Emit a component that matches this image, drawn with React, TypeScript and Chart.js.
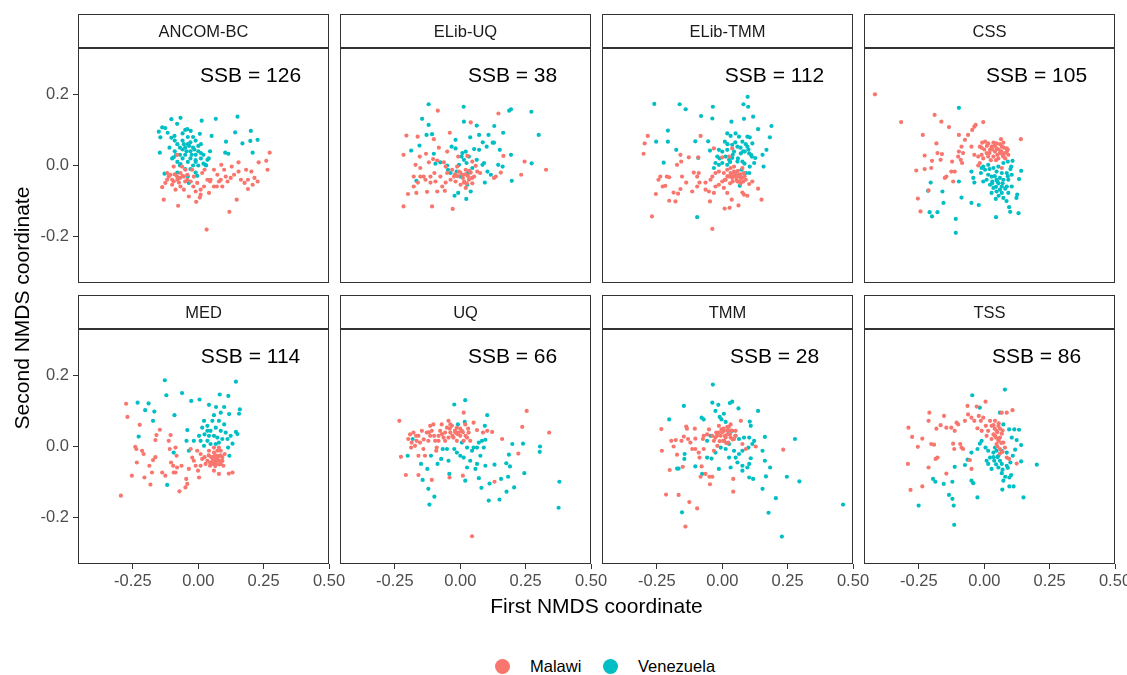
import React, { useEffect, useRef } from 'react';
import { Chart, registerables } from 'chart.js';

Chart.register(...registerables);

const FONT = '"Liberation Sans", Arial, Helvetica, sans-serif';

// ---------- data ----------
const panelNames = ['ANCOM-BC', 'ELib-UQ', 'ELib-TMM', 'CSS', 'MED', 'UQ', 'TMM', 'TSS'];
const ssbValues = [126, 38, 112, 105, 114, 66, 28, 86];
const groupNames = ['Malawi', 'Venezuela'];
const groupColors = ['#F8766D', '#00BFC4'];
const xTickValues = [-0.25, 0, 0.25, 0.5];
const yTickValues = [-0.2, 0, 0.2];
const xRange = [-0.46, 0.5];
const yRange = [-0.33, 0.33];
const ssbAnchor = [0.2, 0.25];
const xTitle = 'First NMDS coordinate';
const yTitle = 'Second NMDS coordinate';

// flat [x, y, x, y, ...] pairs
const ancomMalawi = [
  -0.138,-0.061, -0.132,-0.096, -0.077,-0.113, -0.119,-0.04, -0.106,-0.026, -0.094,-0.045, -0.081,-0.031,
  -0.068,-0.059, -0.055,-0.068, -0.087,-0.068, -0.042,-0.04, -0.019,-0.059, -0.01,-0.073, 0.009,-0.068,
  0.009,-0.082, -0.008,-0.102, 0.022,-0.059, 0.041,-0.077, 0.032,-0.18, 0.047,-0.04, 0.06,-0.012,
  0.073,-0.026, 0.088,0.002, 0.099,-0.012, 0.105,-0.031, 0.092,-0.059, 0.112,-0.045, 0.124,-0.035,
  0.128,-0.003, 0.119,-0.13, 0.147,-0.096, 0.154,0.009, 0.154,-0.017, 0.183,-0.012, 0.203,-0.017,
  0.177,-0.049, 0.19,-0.066, 0.208,-0.054, 0.215,-0.035, 0.227,-0.045, 0.231,0.009, 0.26,0.013,
  0.265,-0.012, 0.273,0.036, 0.071,-0.059, 0.079,-0.045, 0.024,-0.012, -0.023,-0.012, -0.049,-0.012,
  -0.068,-0.021, -0.042,-0.026, -0.062,-0.003, -0.081,0.03, -0.094,-0.003, -0.113,-0.031, -0.1,-0.054,
  -0.126,-0.049, -0.074,-0.048, -0.029,-0.045, -0.004,-0.049, 0.015,-0.021, 0.035,-0.04, -0.036,-0.087,
  0.006,-0.09, 0.086,-0.04, 0.137,-0.026, 0.163,-0.04, 0.19,-0.04, -0.119,-0.021, -0.055,-0.031,
  -0.017,-0.031, 0.045,-0.045, 0.06,-0.059, -0.06,-0.03, -0.05,-0.045, -0.08,-0.04, -0.09,-0.025,
  -0.1,-0.04, -0.07,-0.035,
];
const ancomVenezuela = [
  -0.151,0.095, -0.145,0.079, -0.138,0.107, -0.126,0.105, -0.103,0.13, -0.068,0.134, -0.081,0.117,
  0.013,0.126, 0.067,0.131, 0.15,0.137, 0.141,0.093, 0.201,0.097, 0.227,0.072, 0.199,0.069, 0.169,0.062,
  0.106,0.067, 0.051,0.083, 0.006,0.089, -0.042,0.102, -0.029,0.097, -0.103,0.078, -0.091,0.083,
  -0.117,0.092, -0.147,0.036, 0.103,0.036, 0.115,0.033, 0.208,0.036, -0.129,-0.023, -0.094,0.023,
  -0.068,0.004, 0.045,0.04, 0.035,0.016, 0.028,0.002, -0.004,-0.029, -0.036,-0.049,
  -0.08,0.06, -0.06,0.07, -0.05,0.05, -0.04,0.06, -0.03,0.04, -0.02,0.05, -0.01,0.03, 0.0,0.04,
  0.01,0.02, -0.07,0.03, -0.06,0.02, -0.05,0.03, -0.04,0.01, -0.03,0.02, -0.02,0.0, -0.01,0.01,
  0.0,0.0, 0.02,0.03, 0.03,0.0, -0.09,0.04, -0.1,0.02, -0.08,0.01, -0.07,0.0, -0.05,-0.01,
  -0.03,-0.01, -0.06,0.09, -0.04,0.08, -0.02,0.08, 0.01,0.06, -0.01,0.07, -0.11,0.05, -0.09,0.07,
  -0.05,0.1, -0.03,0.065, 0.0,0.055, 0.04,0.02, 0.02,0.005, -0.04,-0.03, -0.01,-0.02, -0.08,-0.02,
  -0.06,0.045, -0.045,0.04, -0.035,0.055, -0.025,0.03, -0.015,0.045, -0.055,0.06, -0.07,0.05,
  -0.01,0.015, 0.01,0.035, -0.085,0.03,
];
const elibUqMalawi = [
  -0.217,-0.115, -0.108,-0.115, -0.029,-0.122, -0.2,-0.08, -0.168,-0.077, -0.127,-0.074, -0.178,-0.059,
  -0.162,-0.048, -0.178,-0.031, -0.171,0.002, -0.153,-0.007, -0.217,0.03, -0.206,0.084, -0.163,0.081,
  -0.155,0.025, -0.131,0.033, -0.12,0.009, -0.086,0.154, 0.04,0.121, -0.04,0.092, -0.101,0.074,
  -0.082,0.05, -0.104,0.018, -0.088,0.014, -0.063,0.009, 0.146,0.146, 0.165,0.027, 0.246,0.011,
  0.233,-0.026, 0.328,-0.012, 0.155,-0.02, 0.136,-0.031, 0.129,-0.035, -0.008,0.025, 0.027,0.027,
  0.046,0.011, 0.059,-0.001, 0.065,-0.017, 0.076,-0.021, 0.053,-0.031, 0.033,-0.04, 0.014,-0.048,
  0.021,-0.063, 0.001,-0.054, -0.018,-0.045, -0.037,-0.04, -0.056,-0.048, -0.069,-0.059, -0.088,-0.073,
  -0.059,-0.071, -0.076,-0.031, -0.099,-0.021, -0.114,-0.031, -0.133,-0.04, -0.14,-0.031, -0.153,-0.031,
  -0.114,-0.048, -0.095,-0.045, -0.05,-0.021, -0.031,-0.012, -0.024,-0.031, -0.005,-0.017, 0.008,-0.026,
  0.021,-0.012, 0.04,-0.02, -0.012,-0.003, -0.05,0.039, -0.056,-0.003, 0.046,-0.05,
  0.0,-0.02, 0.01,-0.035, 0.02,-0.025, 0.03,-0.03, -0.01,-0.03, 0.035,-0.015, 0.015,-0.045,
  -0.02,-0.025, 0.045,-0.035, 0.025,-0.05,
];
const elibUqVenezuela = [
  -0.121,0.172, -0.146,0.131, -0.121,0.114, -0.129,0.086, -0.108,0.088, -0.156,0.056, -0.188,0.042,
  0.013,0.165, 0.014,0.123, 0.063,0.112, 0.038,0.079, 0.072,0.086, 0.086,0.065, 0.108,0.086, 0.13,0.111,
  0.164,0.092, 0.187,0.154, 0.194,0.158, 0.272,0.151, 0.3,0.086, 0.124,0.064, 0.129,0.064, 0.101,0.053,
  0.151,0.044, 0.194,0.03, 0.162,-0.003, 0.145,0.002, 0.273,0.006, 0.197,-0.043, 0.091,0.007,
  0.085,0.002, 0.104,-0.017, 0.117,-0.026, 0.094,-0.048, 0.072,0.044, 0.053,0.046, 0.021,0.039,
  0.005,0.025, -0.018,0.048, -0.033,0.053, -0.018,0.072, -0.076,0.009, -0.101,0.033, -0.095,0.005,
  -0.05,0.0, -0.168,-0.043, -0.022,-0.085, -0.008,-0.077, 0.023,-0.094, 0.04,-0.073, 0.027,-0.054,
  0.001,-0.031, -0.014,-0.017, -0.005,0.002, 0.014,0.016, 0.033,0.025, 0.046,-0.007, 0.029,-0.021,
  -0.037,-0.021, -0.047,-0.012, 0.008,0.035, 0.024,0.007, 0.063,0.016,
];
const elibTmmMalawi = [
  -0.285,0.083, -0.297,0.062, -0.301,0.033, -0.269,-0.143, -0.038,-0.178, -0.254,-0.08, -0.203,-0.099,
  -0.179,-0.101, -0.169,-0.079, -0.186,-0.076, -0.228,-0.059, -0.218,-0.057, -0.244,-0.04, -0.237,-0.031,
  -0.212,-0.031, -0.203,-0.033, -0.154,-0.031, -0.16,0.03, -0.173,0.002, -0.157,0.011, -0.128,0.023,
  -0.092,0.023, -0.083,0.083, -0.109,-0.02, -0.09,-0.021, -0.096,-0.031, -0.138,-0.048, -0.16,-0.066,
  -0.115,-0.073, -0.096,-0.059, -0.087,-0.048, -0.064,-0.048, -0.045,-0.04, -0.051,-0.073, -0.047,-0.101,
  -0.032,-0.077, -0.026,-0.059, -0.013,-0.054, 0.006,-0.063, 0.019,-0.077, 0.036,-0.096, 0.028,-0.119,
  0.009,-0.121, 0.062,-0.112, 0.077,-0.076, 0.096,-0.085, 0.083,-0.082, 0.137,-0.065, 0.15,-0.096,
  0.115,-0.045, 0.103,-0.052, -0.032,0.048, 0.0,0.023, 0.038,0.048, 0.026,0.025, -0.013,-0.017,
  0.006,-0.021, 0.019,-0.012, 0.032,-0.021, 0.045,-0.017, 0.051,-0.031, 0.064,-0.026, 0.071,-0.035,
  0.058,-0.045, 0.038,-0.035, 0.026,-0.031, 0.013,-0.04, 0.083,-0.021, 0.09,-0.04, 0.045,-0.003,
  -0.026,-0.021, -0.038,-0.031, -0.064,-0.068, 0.0,-0.045, 0.077,-0.007, 0.032,-0.007,
  0.05,-0.02, 0.06,-0.03, 0.07,-0.025, 0.055,-0.04, 0.065,-0.045, 0.075,-0.035, 0.045,-0.03,
  0.08,-0.045, 0.06,-0.015, 0.035,-0.025, 0.04,-0.045, 0.07,-0.05, 0.085,-0.03, 0.03,-0.05,
  0.02,-0.03, 0.01,-0.04,
];
const elibTmmVenezuela = [
  -0.26,0.173, -0.163,0.172, -0.14,0.158, -0.036,0.165, 0.097,0.193, 0.081,0.172, 0.099,0.165,
  -0.081,0.139, -0.038,0.132, 0.035,0.123, 0.083,0.131, 0.118,0.137, 0.188,0.111, 0.137,0.102,
  0.182,0.079, 0.154,0.03, 0.169,0.044, 0.158,-0.003, -0.208,0.098, -0.208,0.067, -0.253,0.067,
  -0.224,0.008, -0.176,0.044, -0.103,0.068, -0.054,0.068, -0.092,0.021, -0.047,0.042, -0.096,-0.145,
  0.019,0.09, 0.032,0.083, 0.051,0.09, 0.064,0.081, 0.077,0.067, 0.096,0.081, 0.105,0.079, 0.115,0.062,
  0.096,0.053, 0.086,0.039, 0.103,0.034, 0.113,0.025, 0.126,0.021, 0.122,0.007, 0.105,-0.003,
  0.09,-0.021, 0.074,-0.012, 0.067,-0.057, 0.058,0.011, 0.038,0.021, 0.026,0.016, 0.013,0.025,
  0.019,0.044, 0.0,0.039, -0.013,0.044, -0.019,0.025, 0.0,0.007, -0.013,0.002, 0.019,0.002,
  0.045,0.039, 0.058,0.053, 0.071,0.034, 0.038,0.058, 0.01,0.067, -0.026,0.007, -0.032,-0.007,
  0.077,0.011, 0.051,-0.021, 0.103,-0.021, 0.02,0.06, 0.05,0.065, 0.07,0.05, 0.09,0.06, 0.06,0.02,
  0.04,0.03, 0.08,0.04, 0.1,0.045, 0.03,0.01, -0.01,0.02, 0.11,0.03, 0.085,0.005,
];
const cssMalawi = [
  -0.418,0.2, -0.318,0.122, -0.19,0.142, -0.164,0.123, -0.135,0.108, -0.038,0.109, -0.033,0.114,
  -0.004,0.122, -0.235,0.086, -0.183,0.062, -0.097,0.086, -0.062,0.086, -0.046,0.1, -0.074,0.072,
  -0.087,0.053, -0.097,0.039, -0.081,0.035, -0.1,0.025, -0.09,0.016, -0.085,0.007, -0.123,0.011,
  -0.228,0.028, -0.2,0.013, -0.179,0.035, -0.162,0.032, -0.167,0.016, -0.26,-0.014, -0.228,-0.01,
  -0.203,-0.007, -0.126,-0.017, -0.113,-0.017, -0.119,-0.045, -0.145,-0.031, -0.151,-0.035,
  -0.213,-0.07, -0.254,-0.093, -0.244,-0.129, 0.14,0.074, -0.038,0.03, -0.017,0.053, -0.008,0.064,
  0.003,0.067, 0.015,0.062, 0.035,0.064, 0.047,0.062, 0.064,0.074, 0.073,0.064, 0.067,0.053,
  0.086,0.048, 0.079,0.035, 0.06,0.035, 0.041,0.039, 0.022,0.044, 0.009,0.035, -0.01,0.03,
  -0.023,0.025, -0.004,0.02, 0.015,0.025, 0.035,0.025, 0.054,0.02, 0.073,0.025, 0.092,0.03,
  0.086,0.039, 0.028,0.053, 0.047,0.048, -0.017,0.007, -0.023,0.0, 0.067,-0.007, -0.049,0.053,
  0.0,0.045, 0.01,0.055, 0.02,0.035, 0.03,0.045, 0.04,0.055, 0.05,0.03, 0.055,0.045, 0.065,0.04,
  0.075,0.05, 0.08,0.02, 0.045,0.015, 0.025,0.015, 0.06,0.06, -0.01,0.05, 0.07,0.03, 0.09,0.045,
];
const cssVenezuela = [
  -0.097,0.162, -0.205,-0.048, -0.215,-0.071, -0.16,-0.073, -0.156,-0.105, -0.209,-0.131, -0.2,-0.143,
  -0.179,-0.131, -0.097,-0.045, -0.087,-0.09, -0.109,-0.15, -0.109,-0.189, -0.049,-0.105, -0.021,-0.111,
  0.045,-0.145, 0.131,-0.134, 0.095,-0.117, 0.099,-0.13, 0.126,-0.082, 0.123,-0.091, 0.141,-0.015,
  0.133,-0.038, 0.103,-0.003, 0.108,0.013, 0.09,0.011, -0.049,-0.017, -0.042,-0.035, -0.038,-0.048,
  -0.004,-0.045, -0.013,-0.021, 0.003,-0.012, 0.015,-0.026, 0.028,-0.031, 0.009,-0.04, 0.022,-0.054,
  0.035,-0.063, 0.047,-0.073, 0.028,-0.077, 0.044,-0.094, 0.067,-0.077, 0.073,-0.091, 0.092,-0.077,
  0.086,-0.059, 0.067,-0.059, 0.054,-0.05, 0.073,-0.04, 0.092,-0.04, 0.105,-0.026, 0.086,-0.021,
  0.067,-0.021, 0.047,-0.017, 0.035,-0.007, 0.054,-0.003, 0.073,0.007, 0.015,0.002, -0.004,-0.003,
  0.047,-0.04, 0.031,-0.045, 0.06,-0.068, 0.105,-0.059, -0.01,-0.007, 0.02,-0.01, 0.04,-0.03,
  0.05,-0.045, 0.06,-0.035, 0.07,-0.05, 0.08,-0.065, 0.03,-0.05, 0.045,-0.06, 0.055,-0.085,
  0.09,-0.03, 0.1,-0.01, 0.085,-0.1,
];
const medMalawi = [
  -0.296,-0.138, -0.276,0.12, -0.271,0.083, -0.254,-0.082, -0.241,-0.001, -0.237,-0.007, -0.235,-0.045,
  -0.224,0.061, -0.215,-0.012, -0.209,-0.021, -0.206,-0.087, -0.187,-0.054, -0.183,-0.107, -0.177,-0.073,
  -0.173,-0.038, -0.164,-0.03, -0.164,0.018, -0.16,0.032, -0.147,0.047, -0.138,-0.073, -0.126,-0.082,
  -0.113,0.016, -0.109,-0.007, -0.106,0.032, -0.104,-0.045, -0.096,-0.054, -0.094,-0.073, -0.087,-0.073,
  -0.087,-0.003, -0.083,-0.026, -0.081,-0.059, -0.072,-0.126, -0.064,-0.054, -0.049,-0.115, -0.046,-0.091,
  -0.042,-0.105, -0.036,-0.063, -0.029,-0.007, -0.023,-0.031, -0.017,-0.04, -0.01,-0.054, -0.001,-0.068,
  0.003,-0.087, 0.009,-0.054, 0.015,-0.035, 0.024,-0.03, 0.035,-0.04, 0.045,-0.054, 0.054,-0.03,
  0.06,-0.017, 0.067,-0.035, 0.073,-0.026, 0.079,-0.04, 0.086,-0.049, 0.092,-0.03, 0.096,-0.054,
  0.117,-0.076, 0.131,-0.073, 0.079,-0.077, 0.06,-0.068, 0.041,-0.012, 0.073,-0.012, 0.054,-0.049,
  0.067,-0.049, 0.028,-0.049, 0.009,-0.021, -0.004,-0.012, 0.086,-0.012, 0.101,-0.021, 0.06,-0.003,
  0.079,-0.003, 0.092,-0.04, 0.05,-0.03, 0.055,-0.04, 0.065,-0.025, 0.07,-0.04, 0.075,-0.03,
  0.06,-0.045, 0.08,-0.05, 0.045,-0.045, 0.085,-0.025, 0.065,-0.055, 0.04,-0.025, 0.09,-0.04,
];
const medVenezuela = [
  -0.128,0.186, -0.122,0.144, -0.062,0.15, -0.027,0.128, 0.005,0.132, -0.232,0.123, -0.19,0.121,
  -0.203,0.102, -0.168,0.098, -0.173,0.072, -0.091,0.088, -0.228,0.028, -0.119,-0.108, -0.094,-0.017,
  0.082,0.146, 0.115,0.142, 0.144,0.182, 0.159,0.104, 0.156,0.092, 0.144,0.041, 0.15,0.035,
  0.041,0.117, 0.068,0.111, 0.099,0.111, 0.086,0.095, 0.118,0.091, 0.06,0.088, 0.022,0.072,
  0.035,0.058, 0.054,0.072, 0.079,0.072, 0.099,0.062, 0.067,0.053, 0.047,0.044, 0.086,0.044,
  0.105,0.039, 0.124,0.03, 0.112,0.021, 0.092,0.021, 0.073,0.025, 0.06,0.03, 0.024,0.034, 0.003,0.03,
  0.009,0.016, -0.017,0.016, -0.042,0.046, -0.045,0.016, -0.036,-0.012, 0.119,-0.026, 0.114,-0.003,
  0.131,0.008, 0.035,0.016, 0.047,0.007, 0.067,0.007, 0.079,0.011, 0.022,0.002, 0.041,0.03,
  0.035,0.044, 0.015,0.053,
];
const uqMalawi = [
  -0.233,0.072, -0.227,-0.029, -0.208,-0.08, -0.16,-0.08, -0.109,-0.094, -0.041,-0.087, 0.01,-0.082,
  0.045,-0.252, -0.192,0.034, -0.199,0.021, -0.186,0.011, -0.188,-0.003, -0.173,0.002, -0.167,0.016,
  -0.16,0.03, -0.147,0.044, -0.141,-0.007, -0.135,-0.026, -0.128,0.039, -0.122,0.016, -0.115,0.03,
  -0.109,0.044, -0.103,0.062, -0.096,0.016, -0.09,-0.003, -0.092,-0.012, -0.083,0.03, -0.077,0.044,
  -0.071,0.062, -0.064,0.025, -0.058,0.039, -0.051,0.053, -0.045,0.072, -0.038,0.039, -0.032,0.058,
  -0.026,0.025, -0.019,0.039, -0.013,0.053, -0.006,0.039, 0.0,0.03, 0.006,0.044, 0.013,0.095,
  0.019,0.062, 0.026,0.025, 0.032,0.039, 0.038,0.016, 0.051,0.067, 0.064,0.046, 0.087,0.039,
  0.103,0.044, 0.122,0.041, 0.16,0.021, 0.131,-0.099, 0.222,-0.02, 0.237,0.055, 0.254,0.1, 0.34,0.039,
  -0.179,0.039, -0.154,0.011, -0.16,-0.026, -0.169,0.03, -0.115,0.058, -0.083,0.016, -0.045,0.025,
  -0.058,0.016, -0.013,0.016, 0.013,0.016, -0.038,0.062, -0.02,0.045, -0.01,0.035, 0.0,0.05,
  0.01,0.04, 0.02,0.03, -0.03,0.03, -0.04,0.05, -0.1,0.03, -0.12,0.04, -0.14,0.02, -0.07,0.035,
  0.03,0.05,
];
const uqVenezuela = [
  -0.023,0.118, 0.019,0.13, 0.103,0.088, 0.094,0.058, 0.017,0.069, -0.009,0.062, -0.182,0.021,
  -0.201,-0.026, -0.15,-0.049, -0.126,-0.063, -0.144,-0.094, -0.122,-0.119, -0.099,-0.141, -0.118,-0.163,
  -0.112,-0.026, -0.087,-0.049, -0.073,-0.035, -0.067,-0.007, -0.051,-0.007, -0.045,-0.04, -0.042,-0.077,
  -0.013,-0.017, 0.0,-0.026, 0.013,-0.031, 0.026,-0.059, 0.019,-0.096, 0.038,-0.04, 0.045,-0.012,
  0.051,-0.003, 0.064,-0.003, 0.071,0.011, 0.083,0.016, 0.096,0.019, 0.09,-0.003, 0.077,-0.026,
  0.064,-0.049, 0.058,-0.063, 0.071,-0.089, 0.081,-0.116, 0.096,-0.054, 0.109,-0.152, 0.112,-0.104,
  0.131,-0.051, 0.15,-0.149, 0.156,-0.091, 0.177,-0.127, 0.183,-0.085, 0.176,-0.047, 0.186,-0.023,
  0.19,-0.056, 0.199,0.007, 0.206,-0.115, 0.24,0.008, 0.245,-0.075, 0.305,0.0, 0.304,-0.015,
  0.379,-0.099, 0.376,-0.172, 0.006,0.011, 0.026,-0.003, -0.023,-0.007,
];
const tmmMalawi = [
  -0.233,0.049, -0.231,-0.012, -0.215,-0.135, -0.201,-0.066, -0.195,0.016, -0.186,0.0, -0.178,0.018,
  -0.173,-0.023, -0.167,-0.136, -0.151,-0.057, -0.147,0.028, -0.141,-0.225, -0.138,0.056, -0.135,0.05,
  -0.131,0.021, -0.126,-0.156, -0.115,-0.007, -0.105,0.05, -0.103,0.022, -0.096,-0.174, -0.09,-0.017,
  -0.087,-0.031, -0.079,-0.056, -0.074,0.021, -0.083,-0.085, -0.071,-0.007, -0.064,-0.077, -0.058,0.034,
  -0.051,0.048, -0.049,-0.085, -0.047,-0.106, -0.038,-0.085, -0.032,0.016, -0.032,-0.012, -0.023,0.039,
  -0.019,0.002, -0.013,0.058, -0.006,0.03, -0.003,0.048, 0.003,0.016, 0.006,0.044, 0.013,0.025,
  0.019,0.055, 0.023,0.011, 0.032,0.062, 0.042,-0.091, 0.042,-0.127, 0.045,0.021, 0.051,0.044,
  0.071,0.072, 0.077,0.007, 0.09,-0.007, 0.128,0.0, 0.233,-0.009, -0.026,0.025, -0.013,0.039,
  0.019,0.034, 0.032,0.025, -0.038,0.03, -0.071,0.03, -0.122,0.011, -0.156,0.016, -0.103,-0.007,
  0.0,0.04, 0.01,0.03, 0.02,0.045, 0.03,0.035, 0.04,0.02, -0.01,0.015, 0.015,0.01, 0.025,0.055,
  0.035,0.045, 0.005,0.05, -0.02,0.03, 0.05,0.03,
];
const tmmVenezuela = [
  -0.036,0.174, -0.147,0.114, -0.203,0.076, -0.038,0.123, -0.015,0.117, 0.029,0.122, 0.038,0.126,
  0.062,0.107, 0.137,0.1, -0.079,0.081, -0.071,0.076, -0.026,0.1, 0.006,0.092, -0.01,0.083,
  -0.003,0.076, 0.013,0.069, 0.105,0.07, 0.109,0.058, 0.022,0.044, 0.038,0.044, 0.051,0.03,
  0.064,0.021, 0.083,0.025, 0.103,0.025, 0.122,0.016, 0.115,0.007, 0.1,-0.003, 0.077,-0.012,
  0.064,-0.021, 0.051,-0.031, 0.045,-0.012, 0.026,-0.031, 0.032,-0.059, 0.058,-0.045, 0.077,-0.054,
  0.096,-0.059, 0.103,-0.049, 0.109,-0.033, 0.077,-0.068, 0.103,-0.087, 0.118,-0.091, 0.154,-0.012,
  0.163,0.027, 0.163,-0.04, 0.183,-0.059, 0.167,-0.084, 0.154,-0.119, 0.205,-0.145, 0.247,-0.085,
  0.278,0.021, 0.295,-0.098, 0.177,-0.186, 0.228,-0.253, 0.462,-0.163, -0.173,-0.062, -0.167,-0.062,
  -0.145,-0.035, -0.144,-0.021, -0.154,-0.185, -0.103,-0.056, -0.077,-0.077, -0.058,-0.031,
  -0.041,-0.034, -0.013,-0.063, -0.026,-0.017, 0.006,0.016, 0.026,0.007, 0.013,-0.007, -0.045,0.03,
  -0.058,0.016, -0.006,-0.003,
];
const tssMalawi = [
  -0.29,0.053, -0.292,-0.049, -0.282,-0.122, -0.276,0.027, -0.254,-0.001, -0.237,0.022, -0.237,-0.112,
  -0.213,-0.059, -0.21,0.095, -0.213,0.072, -0.203,0.007, -0.192,0.005, -0.186,-0.035, -0.179,-0.031,
  -0.183,0.05, -0.167,0.06, -0.154,0.086, -0.145,-0.076, -0.145,0.053, -0.126,0.053, -0.119,0.008,
  -0.115,-0.007, -0.113,0.044, -0.106,0.067, -0.1,0.062, -0.092,0.007, -0.087,-0.003, -0.081,-0.007,
  -0.074,0.072, -0.064,0.114, -0.062,0.09, -0.055,-0.038, -0.049,-0.063, -0.049,0.081, -0.038,0.072,
  -0.029,0.112, -0.026,0.051, -0.021,0.086, -0.013,0.072, -0.004,0.081, 0.005,0.126, 0.006,0.058,
  0.015,0.044, 0.022,0.072, 0.028,0.058, 0.035,0.034, 0.041,0.072, 0.047,0.044, 0.054,0.058,
  0.06,0.025, 0.067,0.036, 0.073,0.011, 0.079,-0.003, 0.086,0.095, 0.067,0.095, 0.108,0.102,
  0.086,-0.031, 0.095,-0.035, 0.124,-0.048, 0.054,0.016, 0.041,0.03, 0.028,0.021, 0.009,0.03,
  -0.01,0.044, 0.047,0.007, 0.06,-0.007, 0.04,0.05, 0.05,0.04, 0.055,0.02, 0.06,0.05, 0.05,0.0,
  0.065,0.01, 0.045,0.025, 0.07,0.045, 0.055,0.065, 0.035,0.06, 0.06,-0.02, 0.07,-0.015,
];
const tssVenezuela = [
  -0.046,0.144, 0.079,0.16, -0.017,0.109, 0.06,0.095, 0.073,0.062, 0.095,0.048, 0.115,0.048,
  0.133,0.047, 0.124,0.018, 0.105,0.025, 0.141,0.004, 0.118,-0.009, 0.109,-0.026, 0.141,-0.042,
  0.201,-0.051, 0.15,-0.143, 0.103,-0.08, 0.096,-0.087, 0.067,-0.075, 0.073,-0.096, 0.069,-0.121,
  0.096,-0.112, 0.112,-0.112, 0.086,-0.054, 0.067,-0.049, 0.054,-0.059, 0.038,-0.04, 0.028,-0.063,
  0.015,-0.049, 0.009,-0.04, 0.022,-0.031, 0.035,-0.017, 0.047,-0.012, 0.054,-0.026, 0.015,-0.012,
  0.005,-0.003, -0.01,0.016, -0.026,-0.007, -0.017,0.008, -0.049,-0.017, -0.064,-0.037, -0.074,-0.052,
  -0.113,-0.057, -0.049,-0.096, -0.042,-0.103, -0.026,-0.143, -0.122,-0.099, -0.155,-0.105,
  -0.135,-0.136, -0.122,-0.147, -0.117,-0.166, -0.115,-0.22, -0.196,-0.091, -0.187,-0.099,
  -0.251,-0.166, 0.067,-0.012, 0.086,-0.017, 0.041,-0.003, 0.05,-0.03, 0.06,-0.04, 0.045,-0.05,
  0.07,-0.065, 0.08,-0.085, 0.035,-0.03, 0.09,-0.06, 0.1,-0.045,
];

const malawiByPanel = [ancomMalawi, elibUqMalawi, elibTmmMalawi, cssMalawi, medMalawi, uqMalawi, tmmMalawi, tssMalawi];
const venezuelaByPanel = [ancomVenezuela, elibUqVenezuela, elibTmmVenezuela, cssVenezuela, medVenezuela, uqVenezuela, tmmVenezuela, tssVenezuela];

// ---------- layout ----------
const PLOT_LEFT = [78, 340, 602, 864];
const PLOT_TOP = [48, 329];
const PLOT_W = 251;
const PLOT_H = 235;
const STRIP_H = 34;
const PAD_L = 56;
const PAD_R = 24;
const PAD_T = STRIP_H + 2;
const PAD_B = 36;
const Y_AXIS_W = 40;
const X_AXIS_H = 30;

const toPoints = (flat: number[]) => {
  const out: { x: number; y: number }[] = [];
  for (let i = 0; i + 1 < flat.length; i += 2) out.push({ x: flat[i], y: flat[i + 1] });
  return out;
};

const decorPlugin = {
  id: 'panelDecor',
  afterDraw(chart: any, _args: any, opts: any) {
    const { ctx, chartArea: a, scales } = chart;
    ctx.save();
    ctx.fillStyle = '#000000';
    ctx.font = `21px ${FONT}`;
    ctx.textAlign = 'center';
    ctx.textBaseline = 'middle';
    ctx.fillText(opts.label, scales.x.getPixelForValue(ssbAnchor[0]), scales.y.getPixelForValue(ssbAnchor[1]));
    ctx.strokeStyle = '#333333';
    ctx.lineWidth = 1;
    ctx.strokeRect(a.left + 0.5, a.top + 0.5, a.right - a.left - 1, a.bottom - a.top - 1);
    const st = a.top - STRIP_H;
    ctx.fillStyle = '#ffffff';
    ctx.fillRect(a.left, st, a.right - a.left, STRIP_H);
    ctx.strokeRect(a.left + 0.5, st + 0.5, a.right - a.left - 1, STRIP_H);
    ctx.lineWidth = 2;
    ctx.beginPath();
    ctx.moveTo(a.left, a.top);
    ctx.lineTo(a.right, a.top);
    ctx.stroke();
    ctx.fillStyle = '#1A1A1A';
    ctx.font = `16.5px ${FONT}`;
    ctx.fillText(opts.title, (a.left + a.right) / 2, st + STRIP_H / 2 + 1);
    ctx.restore();
  },
};

function Panel({ index }: { index: number }) {
  const ref = useRef<HTMLCanvasElement | null>(null);
  const row = Math.floor(index / 4);
  const col = index % 4;
  const leftCol = col === 0;
  const bottomRow = row === 1;
  const width = PAD_L + PLOT_W + PAD_R;
  const height = PAD_T + PLOT_H + PAD_B;

  useEffect(() => {
    if (!ref.current) return;
    const tickFont = { family: FONT, size: 16.5 };
    const chart = new Chart(ref.current, {
      type: 'scatter',
      data: {
        datasets: [
          {
            label: groupNames[0],
            data: toPoints(malawiByPanel[index]),
            backgroundColor: groupColors[0],
            borderColor: groupColors[0],
            pointRadius: 2.1,
            pointBorderWidth: 0,
            pointHoverRadius: 2.1,
          },
          {
            label: groupNames[1],
            data: toPoints(venezuelaByPanel[index]),
            backgroundColor: groupColors[1],
            borderColor: groupColors[1],
            pointRadius: 2.1,
            pointBorderWidth: 0,
            pointHoverRadius: 2.1,
          },
        ],
      },
      options: {
        animation: false,
        responsive: false,
        events: [],
        layout: {
          padding: {
            left: PAD_L - (leftCol ? Y_AXIS_W : 0),
            right: PAD_R,
            top: PAD_T,
            bottom: PAD_B - (bottomRow ? X_AXIS_H : 0),
          },
        },
        plugins: {
          legend: { display: false },
          tooltip: { enabled: false },
          panelDecor: { label: `SSB = ${ssbValues[index]}`, title: panelNames[index] },
        } as any,
        scales: {
          x: {
            type: 'linear',
            min: xRange[0],
            max: xRange[1],
            display: bottomRow,
            afterBuildTicks: (s: any) => {
              s.ticks = xTickValues.map((value) => ({ value }));
            },
            afterFit: (s: any) => {
              s.height = bottomRow ? X_AXIS_H : 0;
            },
            grid: { display: true, drawOnChartArea: false, drawTicks: true, tickLength: 5, color: '#333333', lineWidth: 1 },
            border: { display: false },
            ticks: {
              autoSkip: false,
              maxRotation: 0,
              padding: 3,
              color: '#4D4D4D',
              font: tickFont,
              callback: (v: any) => Number(v).toFixed(2),
            },
          },
          y: {
            type: 'linear',
            min: yRange[0],
            max: yRange[1],
            display: leftCol,
            afterBuildTicks: (s: any) => {
              s.ticks = yTickValues.map((value) => ({ value }));
            },
            afterFit: (s: any) => {
              s.width = leftCol ? Y_AXIS_W : 0;
            },
            grid: { display: true, drawOnChartArea: false, drawTicks: true, tickLength: 5, color: '#333333', lineWidth: 1 },
            border: { display: false },
            ticks: {
              autoSkip: false,
              padding: 4,
              color: '#4D4D4D',
              font: tickFont,
              callback: (v: any) => Number(v).toFixed(1),
            },
          },
        },
      } as any,
      plugins: [decorPlugin as any],
    });
    return () => chart.destroy();
  }, [index]);

  return (
    <canvas
      ref={ref}
      width={width}
      height={height}
      style={{
        position: 'absolute',
        left: PLOT_LEFT[col] - PAD_L,
        top: PLOT_TOP[row] - PAD_T,
        width,
        height,
      }}
    />
  );
}

export default function App() {
  return (
    <div
      style={{
        position: 'fixed',
        left: 0,
        top: 0,
        width: 1127,
        height: 675,
        background: '#ffffff',
        fontFamily: FONT,
        overflow: 'hidden',
      }}
    >
      {panelNames.map((_, i) => (
        <Panel key={i} index={i} />
      ))}
      <div
        style={{
          position: 'absolute',
          left: 78,
          width: 1115 - 78,
          top: 594,
          height: 24,
          lineHeight: '24px',
          fontSize: 21,
          textAlign: 'center',
          color: '#000',
        }}
      >
        {xTitle}
      </div>
      <div
        style={{
          position: 'absolute',
          left: 21.5 - 200,
          top: 308 - 12,
          width: 400,
          height: 24,
          lineHeight: '24px',
          fontSize: 21,
          textAlign: 'center',
          color: '#000',
          transform: 'rotate(-90deg)',
        }}
      >
        {yTitle}
      </div>
      {groupNames.map((g, i) => (
        <React.Fragment key={g}>
          <div
            style={{
              position: 'absolute',
              left: (i === 0 ? 502 : 610) - 7.5,
              top: 666 - 7.5,
              width: 15,
              height: 15,
              borderRadius: '50%',
              background: groupColors[i],
            }}
          />
          <div
            style={{
              position: 'absolute',
              left: i === 0 ? 530 : 638,
              top: 666 - 10,
              height: 20,
              lineHeight: '20px',
              fontSize: 16.5,
              color: '#000',
              whiteSpace: 'nowrap',
            }}
          >
            {g}
          </div>
        </React.Fragment>
      ))}
    </div>
  );
}
